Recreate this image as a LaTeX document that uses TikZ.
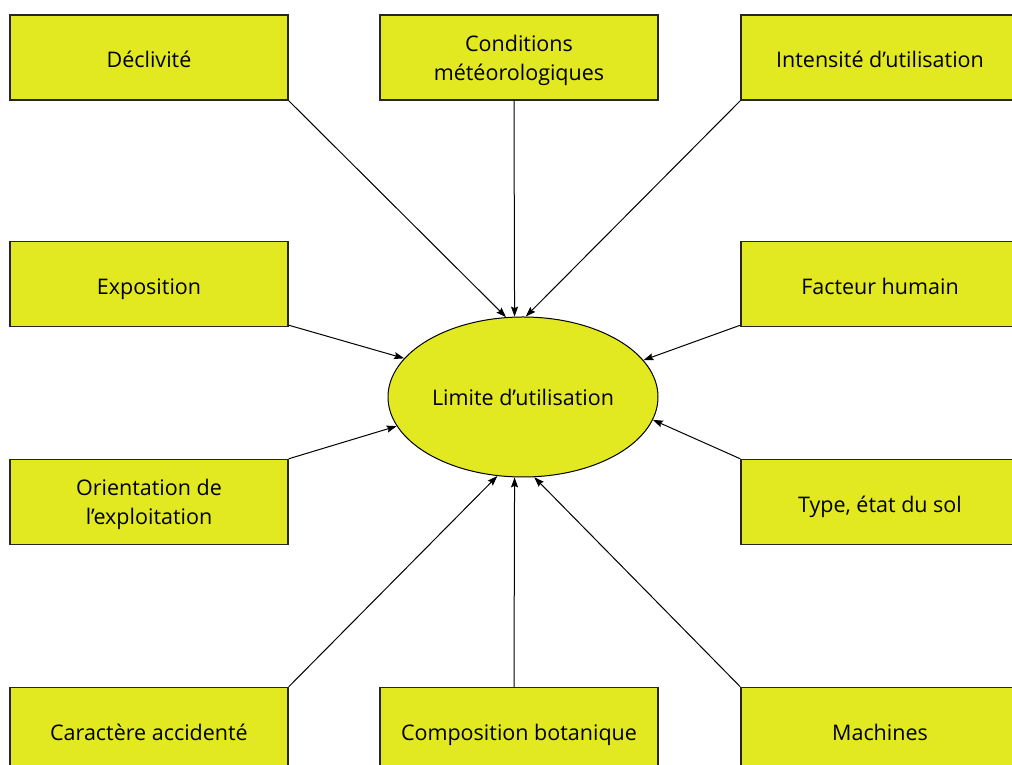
\documentclass[tikz,border=0pt]{standalone}
\usepackage{fontspec}
\setmainfont{Open Sans}
\usetikzlibrary{shapes.geometric,arrows.meta}
\definecolor{boxfill}{RGB}{227,233,32}
\newcommand{\topstrut}{\rule{0pt}{22pt}}
\tikzset{
  factor/.style={draw=black!85, line width=1.4pt, fill=boxfill, minimum width=278pt, minimum height=85pt, inner sep=0pt, align=center, font=\fontsize{21.5}{29}\selectfont},
  oneline/.style={text height=21pt, text depth=0pt},
  centre/.style={ellipse, draw=black, line width=1pt, fill=boxfill, minimum width=270pt, minimum height=160pt, inner sep=0pt, font=\fontsize{21.5}{29}\selectfont},
  link/.style={line width=1pt, -{Stealth[length=10pt,width=7pt,inset=1.5pt]}}
}
\begin{document}
\begin{tikzpicture}[x=1pt,y=1pt]
\clip (0,0) rectangle (1012,765);
\useasboundingbox (0,0) rectangle (1012,765);
\node[factor,oneline] (decl) at (149,707.5) {Déclivité};
\node[factor] (cond) at (519,707.5) {\topstrut Conditions\\météorologiques};
\node[factor,oneline] (inten) at (880,707.5) {Intensité d’utilisation};
\node[factor,oneline] (expo) at (149,481) {Exposition};
\node[factor,oneline] (fact) at (880,481) {Facteur humain};
\node[factor] (orient) at (149,263) {\topstrut Orientation de\\l’exploitation};
\node[factor,oneline] (type) at (880,263) {Type, état du sol};
\node[factor,oneline] (carac) at (149,35) {Caractère accidenté};
\node[factor,oneline] (compo) at (519,35) {Composition botanique};
\node[factor,oneline] (mach) at (880,35) {Machines};
\node[centre] (lim) at (523,368) {Limite d’utilisation};
\draw[link] (decl.south east) -- (lim.102.5);
\draw[link] ([xshift=-5pt]cond.south) -- (lim.96.5);
\draw[link] (inten.south west) -- (lim.88.5);
\draw[link] ([yshift=2pt]expo.south east) -- (lim.162.6);
\draw[link] ([yshift=2pt]fact.south west) -- (lim.17.1);
\draw[link] (orient.north east) -- (lim.193.4);
\draw[link] (type.north west) -- (lim.350);
\draw[link] (carac.north east) -- (lim.252.6);
\draw[link] ([xshift=-5pt]compo.north) -- (lim.264.5);
\draw[link] (mach.north west) -- (lim.278.2);
\end{tikzpicture}
\end{document}
